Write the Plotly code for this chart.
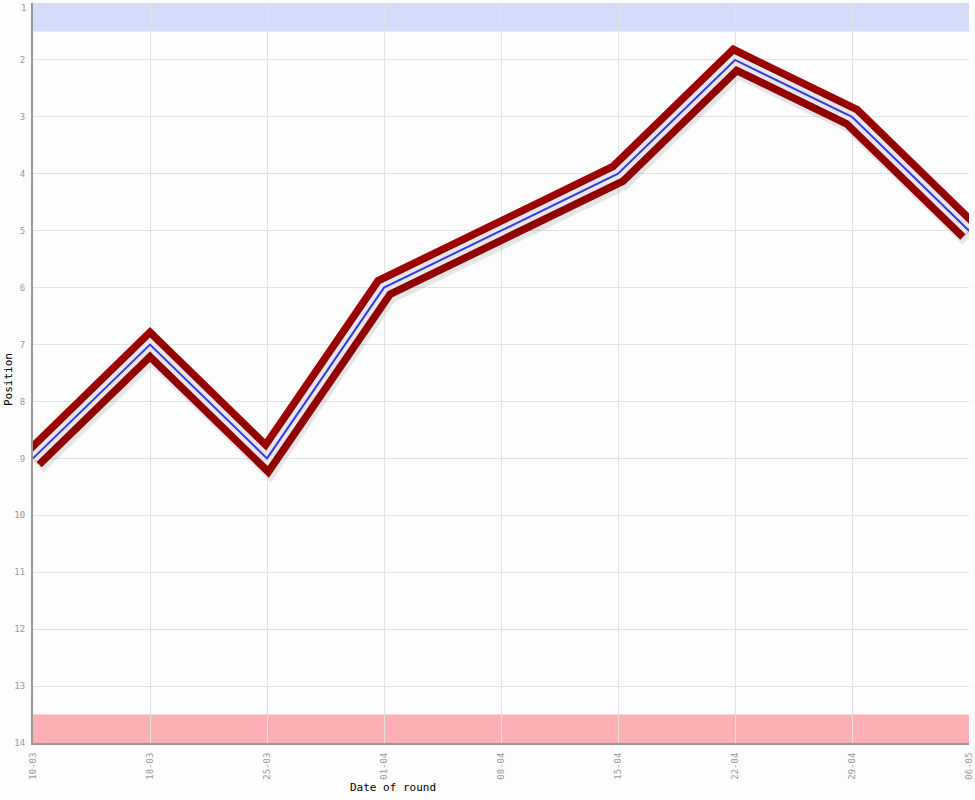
import plotly.graph_objects as go

dates = ["10-03", "18-03", "25-03", "01-04", "08-04", "15-04", "22-04", "29-04", "06-05"]
positions = [9, 7, 9, 6, 5, 4, 2, 3, 5]
y_ticks = list(range(1, 15))

W, H = 975, 800
L, R, T, B = 33, 6, 3, 57
pw = W - L - R
ph = H - T - B
step_x = pw / (len(dates) - 1)
step_y = ph / 13.0

fig = go.Figure()

# soft shadow on offset axes
sx = 2 / step_x
sy = 5 / step_y
fig.add_trace(go.Scatter(x=list(range(len(dates))), y=positions, mode="lines",
                         line=dict(color="rgba(0,0,0,0.09)", width=25),
                         xaxis="x2", yaxis="y2", hoverinfo="skip", showlegend=False))

fig.add_trace(go.Scatter(x=dates, y=positions, mode="lines",
                         line=dict(color="#a00000", width=25), hoverinfo="skip", showlegend=False))
fig.add_trace(go.Scatter(x=dates, y=positions, mode="lines",
                         line=dict(color="white", width=10), hoverinfo="skip", showlegend=False))
fig.add_trace(go.Scatter(x=dates, y=positions, mode="lines",
                         line=dict(color="#4040ff", width=2), showlegend=False))

shapes = [
    dict(type="rect", xref="paper", yref="y", x0=0, x1=1, y0=1, y1=1.5,
         fillcolor="#d4dbfb", line=dict(width=0), layer="below"),
    dict(type="rect", xref="paper", yref="y", x0=0, x1=1, y0=13.5, y1=14,
         fillcolor="#fcb0b5", line=dict(width=0), layer="below"),
]

tickfont = dict(family="DejaVu Sans Mono", size=9, color="#999999")

fig.update_layout(
    width=W, height=H,
    margin=dict(l=L, r=R, t=T, b=B),
    paper_bgcolor="#fdfdfd", plot_bgcolor="#fdfdfd",
    shapes=shapes,
    xaxis=dict(type="category", categoryorder="array", categoryarray=dates,
               range=[0, len(dates) - 1], tickangle=-90, tickfont=tickfont,
               automargin=False, ticklabeloverflow="allow",
               showgrid=True, gridcolor="#e2e2e2", gridwidth=1,
               showline=True, linecolor="#999999", linewidth=2,
               ticks="outside", ticklen=4, tickcolor="rgba(0,0,0,0)",
               zeroline=False, layer="below traces"),
    yaxis=dict(range=[14, 1], tickvals=y_ticks[1:], ticktext=[str(v) for v in y_ticks[1:]],
               tickfont=tickfont, automargin=False, ticklabeloverflow="allow",
               showgrid=True, gridcolor="#e2e2e2", gridwidth=1,
               showline=True, linecolor="#999999", linewidth=2,
               ticks="outside", ticklen=4, tickcolor="rgba(0,0,0,0)",
               zeroline=False, layer="below traces"),
    xaxis2=dict(overlaying="x", range=[0 - sx, len(dates) - 1 - sx], visible=False),
    yaxis2=dict(overlaying="y", range=[14 - sy, 1 - sy], visible=False),
    annotations=[
        dict(text=str(y_ticks[0]), xref="paper", yref="y", x=0, y=y_ticks[0],
             xanchor="right", yanchor="top", xshift=-5, yshift=2, showarrow=False,
             font=tickfont),
        dict(text="Date of round", xref="paper", yref="paper",
             x=(393 - L) / pw, y=-(787 - (T + ph)) / ph, xanchor="center", yanchor="middle",
             showarrow=False, font=dict(family="DejaVu Sans Mono", size=11, color="black")),
        dict(text="Position", xref="paper", yref="paper",
             x=(8 - L) / pw, y=0.5 - (380 - (T + ph / 2)) / ph, xanchor="center", yanchor="middle",
             textangle=-90, showarrow=False,
             font=dict(family="DejaVu Sans Mono", size=11, color="black")),
    ],
)

fig.write_html("out.html", config={"displayModeBar": False},
               post_script="document.body.style.margin='0';document.body.style.overflow='hidden';")
